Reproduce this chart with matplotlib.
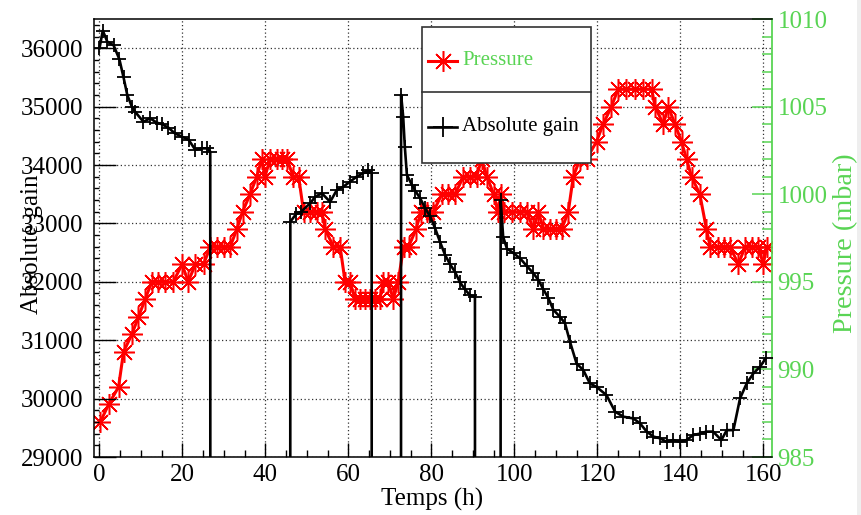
import matplotlib
matplotlib.use("Agg")
import matplotlib.pyplot as plt
from matplotlib.lines import Line2D
from matplotlib.patches import Rectangle
from matplotlib.ticker import MultipleLocator

# ---------------------------------------------------------------------------
# Absolute gain of the detector vs. time (0 = no measurement during the gaps)
# ---------------------------------------------------------------------------
time_gain = [
    0.0, 0.8, 1.9, 3.4, 4.8, 5.8, 6.7, 7.8, 8.6, 10.6, 12.2, 13.8, 15.0, 16.6,
    18.2, 19.9, 21.5, 23.1, 24.7, 25.9, 26.7,
    26.8, 45.9,
    46.0, 47.4, 48.6, 50.8, 52.0, 53.6, 55.6, 57.2, 58.8, 60.4, 62.0, 63.6,
    64.8, 65.6,
    65.7, 72.6,
    72.7, 73.2, 73.6, 74.1, 75.3, 76.1, 77.3, 78.5, 79.7, 80.9, 82.1, 83.3,
    84.5, 85.7, 86.9, 88.1, 89.3, 90.5,
    90.6, 96.6,
    96.7, 97.3, 98.2, 99.8, 101.4, 103.0, 104.6, 105.8, 107.0, 108.2, 109.4,
    111.0, 112.2, 113.4, 115.0, 116.6, 118.2, 119.8, 122.2, 124.3, 126.3,
    128.7, 130.3, 131.9, 133.5, 135.1, 136.7, 138.3, 139.9, 141.5, 143.1,
    144.7, 146.3, 147.9, 149.9, 151.2, 152.8, 154.4, 156.0, 157.6, 159.2,
    160.6,
]
abs_gain = [
    36000, 36300, 36110, 36050, 35810, 35500, 35200, 35000, 34910, 34740,
    34800, 34725, 34700, 34640, 34540, 34485, 34430, 34260, 34285, 34285,
    34230,
    0, 0,
    33030, 33160, 33200, 33345, 33457, 33515, 33370, 33570, 33630, 33715,
    33800, 33860, 33915, 33860,
    0, 0,
    35200, 34830, 34310, 33830, 33660, 33560, 33430, 33260, 33120, 32915,
    32680, 32460, 32300, 32170, 31990, 31870, 31770, 31740,
    0, 0,
    33400, 32770, 32570, 32490, 32400, 32270, 32145, 32030, 31870, 31720,
    31520, 31400, 31290, 30975, 30600, 30490, 30260, 30200, 30060, 29775,
    29690, 29660, 29575, 29435, 29350, 29320, 29260, 29290, 29260, 29290,
    29375, 29400, 29435, 29435, 29290, 29460, 29460, 30005, 30260, 30430,
    30545, 30690,
]

# ---------------------------------------------------------------------------
# Atmospheric pressure (mbar) vs. time
# ---------------------------------------------------------------------------
time_pressure = [
    0.2, 2.2, 4.6, 5.8, 7.8, 9.4, 11.0, 12.6, 14.2, 15.8, 17.8, 19.9, 21.4,
    23.1, 25.1, 26.7, 28.3, 29.9, 31.5, 33.1, 34.5, 36.3, 37.9, 39.1, 39.9,
    41.1, 42.7, 43.9, 45.2, 46.7, 48.0, 49.2, 50.8, 52.4, 53.6, 54.4, 56.4,
    58.0, 59.2, 60.4, 61.6, 62.8, 64.0, 65.2, 66.4, 67.6, 68.4, 69.6, 70.8,
    72.0, 73.3, 74.5, 76.3, 77.5, 78.9, 80.5, 82.5, 84.1, 85.7, 87.7, 89.3,
    90.9, 92.1, 93.4, 95.0, 96.0, 96.8, 97.6, 99.4, 101.4, 103.0, 104.6,
    105.8, 107.0, 108.6, 110.0, 111.4, 113.0, 114.2, 115.8, 117.4, 119.8,
    121.4, 123.4, 125.0, 127.0, 129.0, 131.0, 133.1, 133.9, 135.9, 137.1,
    138.7, 140.3, 141.5, 142.7, 144.7, 146.3, 147.2, 149.0, 150.5, 152.0,
    154.0, 155.6, 157.2, 158.8, 160.0, 160.8,
]
pressure = [
    987, 988, 989, 991, 992, 993, 994, 995, 995, 995, 995, 996, 995,
    996, 996, 997, 997, 997, 997, 998, 999, 1000, 1001, 1002, 1001,
    1002, 1002, 1002, 1002, 1001, 1001, 999, 999, 999, 999, 998, 997,
    997, 995, 995, 994, 994, 994, 994, 994, 994, 995, 995, 994,
    995, 997, 997, 998, 999, 999, 999, 1000, 1000, 1000, 1001, 1001,
    1001, 1002, 1001, 1000, 999, 1000, 999, 999, 999, 999, 998,
    999, 998, 998, 998, 998, 999, 1001, 1002, 1002, 1003,
    1004, 1005, 1006, 1006, 1006, 1006, 1006, 1005, 1004, 1005,
    1004, 1003, 1002, 1001, 1000, 998, 997, 997, 997, 997,
    996, 997, 997, 997, 996, 997,
]

x_ticks = list(range(0, 161, 20))
gain_ticks = list(range(29000, 36001, 1000))
pressure_ticks = list(range(985, 1011, 5))

GREEN = "#59d454"
RED = "#ff0000"
STAR = (8, 2, 0)  # eight-armed asterisk

plt.rcParams["font.family"] = ["Liberation Serif", "DejaVu Serif"]

W, H = 862.0, 515.0
fig = plt.figure(figsize=(W / 100, H / 100), dpi=100)
fig.patch.set_facecolor("white")


def fx(px):
    return px / W


def fy(py):
    return 1.0 - py / H


rect = [fx(94.5), fy(457), fx(772) - fx(94.5), fy(19) - fy(457)]
XLIM = (-1.2, 162.1)
GAIN_LIM = (29000, 36500)
P_LIM = (985, 1010)

# background axes: white frame and dotted grid
ax_bg = fig.add_axes(rect, zorder=0)
ax_bg.set_xlim(*XLIM)
ax_bg.set_ylim(*GAIN_LIM)
ax_bg.set_xticks(x_ticks)
ax_bg.set_yticks(gain_ticks)
ax_bg.grid(True, linestyle=(0, (1, 2)), color="#333333", lw=0.9)
ax_bg.tick_params(length=0, labelbottom=False, labelleft=False)
for s in ax_bg.spines.values():
    s.set_visible(False)

# pressure axes (right scale, green)
ax_p = fig.add_axes(rect, zorder=1)
ax_p.patch.set_visible(False)
ax_p.plot(time_pressure, pressure, color=RED, lw=2.2, marker=STAR, ms=15,
          mew=1.1)
ax_p.set_xlim(*XLIM)
ax_p.set_ylim(*P_LIM)
ax_p.yaxis.tick_right()
ax_p.set_yticks(pressure_ticks)
ax_p.yaxis.set_minor_locator(MultipleLocator(1))
ax_p.tick_params(axis="y", which="major", direction="in", length=14.4,
                 width=1.1, colors=GREEN, labelsize=18, pad=4)
ax_p.tick_params(axis="y", which="minor", direction="in", length=7.2,
                 width=1.1, color=GREEN)
ax_p.tick_params(axis="x", which="both", bottom=False, labelbottom=False)
for name, s in ax_p.spines.items():
    s.set_visible(name == "right")
ax_p.spines["right"].set_color(GREEN)
ax_p.spines["right"].set_linewidth(1.3)

# gain axes (left scale, black)
ax = fig.add_axes(rect, zorder=2)
ax.patch.set_visible(False)
ax.plot(time_gain, abs_gain, color="black", lw=1.9, marker="+", ms=10,
        mew=1.3)
ax.set_xlim(*XLIM)
ax.set_ylim(*GAIN_LIM)
ax.set_xticks(x_ticks)
ax.set_yticks(gain_ticks)
ax.xaxis.set_minor_locator(MultipleLocator(5))
ax.yaxis.set_minor_locator(MultipleLocator(200))
ax.tick_params(axis="x", which="major", direction="in", length=10, width=1.0,
               labelsize=18, pad=5, top=False)
ax.tick_params(axis="x", which="minor", direction="in", length=5, width=1.0,
               top=False)
ax.tick_params(axis="y", which="major", direction="in", length=15.8,
               width=1.0, labelsize=18, pad=8, right=False)
ax.tick_params(axis="y", which="minor", direction="in", length=3.6,
               width=1.0, right=False)
ax.spines["right"].set_visible(False)
for name in ("left", "top", "bottom"):
    ax.spines[name].set_linewidth(1.1)

# axis titles
fig.text(fx(432), fy(499), "Temps (h)", ha="center", va="center", fontsize=18)
fig.text(fx(32), fy(244), "Absolute gain", ha="center", va="center",
         rotation=90, fontsize=18)
fig.text(fx(846), fy(243), "Pressure (mbar)", ha="center", va="center",
         rotation=90, fontsize=20.3, color=GREEN)

# legend box with two stacked entries
L, R, T, B, MID = 421.7, 591.0, 26.7, 162.7, 91.7
box = Rectangle((fx(L), fy(B)), fx(R) - fx(L), fy(T) - fy(B),
                transform=fig.transFigure, facecolor="white",
                edgecolor="#333333", lw=1.2, zorder=10)
fig.add_artist(box)
fig.add_artist(Line2D([fx(L), fx(R)], [fy(MID), fy(MID)],
                      transform=fig.transFigure, color="#333333", lw=1.2,
                      zorder=11))

y1, y2 = 60.7, 126.7
fig.add_artist(Line2D([fx(428), fx(457)], [fy(y1), fy(y1)],
                      transform=fig.transFigure, color=RED, lw=2.2, zorder=11))
fig.add_artist(Line2D([fx(442.5)], [fy(y1)], transform=fig.transFigure,
                      color=RED, marker=STAR, ms=15, mew=1.1, ls="none",
                      zorder=12))
fig.text(fx(462.5), fy(y1), "Pressure", ha="left", va="center", fontsize=15,
         color=GREEN, zorder=12)

fig.add_artist(Line2D([fx(428), fx(457)], [fy(y2), fy(y2)],
                      transform=fig.transFigure, color="black", lw=1.9,
                      zorder=11))
fig.add_artist(Line2D([fx(442.5)], [fy(y2)], transform=fig.transFigure,
                      color="black", marker="+", ms=14, mew=1.3, ls="none",
                      zorder=12))
fig.text(fx(462.5), fy(y2), "Absolute gain", ha="left", va="center",
         fontsize=15, color="black", zorder=12)

# light border strip on the right edge of the canvas
fig.add_artist(Rectangle((fx(857), 0), 1 - fx(857), 1,
                         transform=fig.transFigure, facecolor="#eeeeee",
                         edgecolor="none", zorder=-1))

fig.savefig("out.png", dpi=100)
